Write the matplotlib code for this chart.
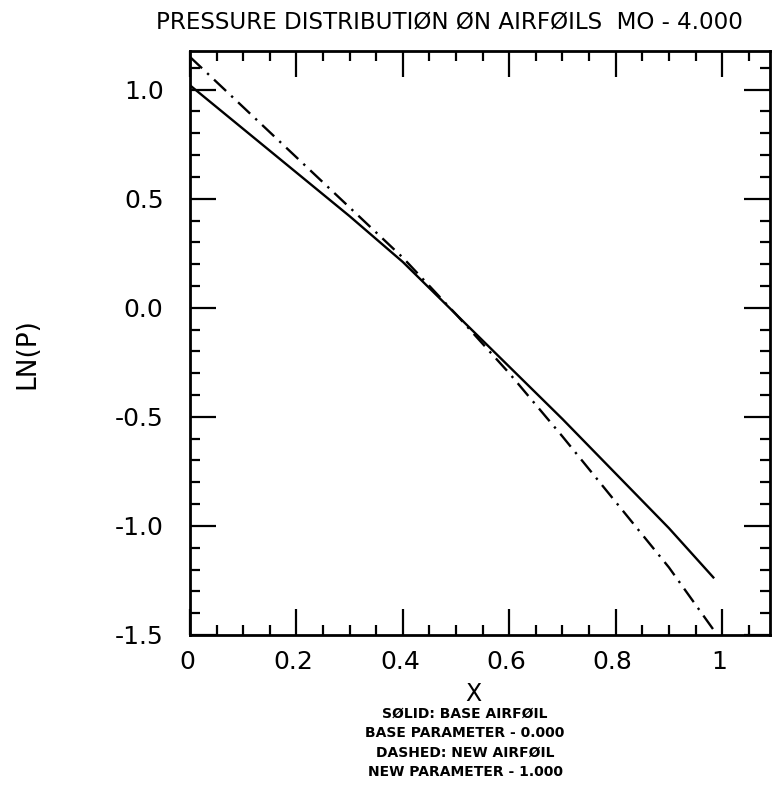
import matplotlib
matplotlib.use("Agg")
import matplotlib.pyplot as plt
import matplotlib.transforms as mtransforms
from matplotlib.ticker import MultipleLocator

# values
x_solid = [0.0, 0.1, 0.2, 0.3, 0.4, 0.5, 0.6, 0.7, 0.8, 0.9, 0.985]
lnp_solid = [1.02, 0.82, 0.62, 0.42, 0.21, -0.03, -0.27, -0.51, -0.76, -1.01, -1.24]

x_dashed = [0.0, 0.1, 0.2, 0.3, 0.4, 0.5, 0.6, 0.7, 0.8, 0.9, 0.985]
lnp_dashed = [1.15, 0.92, 0.69, 0.46, 0.23, -0.03, -0.30, -0.59, -0.89, -1.19, -1.48]

xticks = [0, 0.2, 0.4, 0.6, 0.8, 1.0]
xtick_labels = ["0", "0.2", "0.4", "0.6", "0.8", "1"]
yticks = [-1.5, -1.0, -0.5, 0.0, 0.5, 1.0]
ytick_labels = ["-1.5", "-1.0", "-0.5", "0.0", "0.5", "1.0"]

title = "PRESSURE DISTRIBUTIØN ØN AIRFØILS  MO - 4.000"
notes = ["SØLID: BASE AIRFØIL",
         "BASE PARAMETER - 0.000",
         "DASHED: NEW AIRFØIL",
         "NEW PARAMETER - 1.000"]

plt.rcParams["axes.unicode_minus"] = False
plt.rcParams["font.family"] = ["DejaVu Sans"]

W, H = 779, 789
fig = plt.figure(figsize=(W / 100, H / 100), dpi=100)
ax = fig.add_axes([190 / W, 1 - 635 / H, (770 - 190) / W, (635 - 51.5) / H])

ax.plot(x_solid, lnp_solid, color="black", lw=1.7, solid_capstyle="butt")
ax.plot(x_dashed, lnp_dashed, color="black", lw=1.7,
        linestyle=(0, (7, 3, 1, 3)))

ax.set_xlim(0, 1.09)
ax.set_ylim(-1.5, 1.175)

ax.set_xticks(xticks)
ax.set_xticklabels(xtick_labels)
ax.set_yticks(yticks)
ax.set_yticklabels(ytick_labels)
ax.xaxis.set_minor_locator(MultipleLocator(0.05))
ax.yaxis.set_minor_locator(MultipleLocator(0.1))

ax.tick_params(which="both", direction="in", top=True, right=True,
               color="black", width=1.6)
ax.tick_params(which="major", length=19, labelsize=18)
ax.tick_params(axis="y", which="major", pad=19)
ax.tick_params(axis="x", which="major", pad=11)
ax.tick_params(which="minor", length=7)
for s in ax.spines.values():
    s.set_linewidth(2)

# x labels in the scan sit a little left of their ticks
dx = mtransforms.ScaledTranslation(-3 / 100, 0, fig.dpi_scale_trans)
for lab in ax.get_xticklabels():
    lab.set_transform(lab.get_transform() + dx)

fig.text(449 / W, 1 - 22 / H, title, ha="center", va="center", fontsize=16.6)
fig.text(473 / W, 1 - 694 / H, "X", ha="center", va="center", fontsize=17)
fig.text(27 / W, 1 - 354 / H, "LN(P)", ha="center", va="center",
         rotation=90, fontsize=19)

note_y = [714, 733, 753, 772]
for line, y in zip(notes, note_y):
    fig.text(465 / W, 1 - y / H, line, ha="center", va="center",
             fontsize=10, fontweight="bold")

fig.savefig("out.png", dpi=100)
